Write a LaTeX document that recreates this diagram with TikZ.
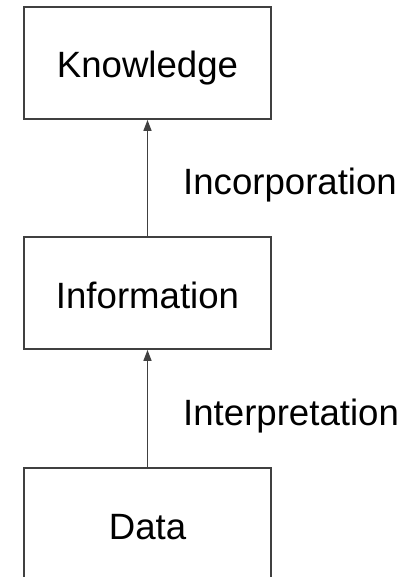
\documentclass[tikz,border=0pt]{standalone}
\usepackage{fontspec}
\setmainfont{Liberation Sans}
\usetikzlibrary{arrows.meta}
\begin{document}
\begin{tikzpicture}[x=1pt,y=-1pt,
  box/.style={draw=black!75, line width=1.8pt, minimum width=247pt, minimum height=112pt, inner sep=0pt, text height=30pt, text depth=0pt, font=\fontsize{36.6}{40}\selectfont},
  lbl/.style={anchor=base west, inner sep=0pt, font=\fontsize{36.6}{40}\selectfont},
  conn/.style={draw=black!75, line width=1.4pt, -{Triangle[length=11pt,width=8pt]}}]
\useasboundingbox (0,0) rectangle (413,577);
\clip (0,0) rectangle (413,577);
\fill[white] (0,0) rectangle (413,577);
\node[box] (k) at (147.5,63) {Knowledge};
\node[box] (i) at (147.5,293) {Information};
\node[box] (d) at (147.5,524) {Data};
\draw[conn] (i.north) -- (k.south);
\draw[conn] (d.north) -- (i.south);
\node[lbl] (l1) at (183,195) {Incorporation};
\node[lbl] (l2) at (183,425) {Interpretation};
\end{tikzpicture}
\end{document}
